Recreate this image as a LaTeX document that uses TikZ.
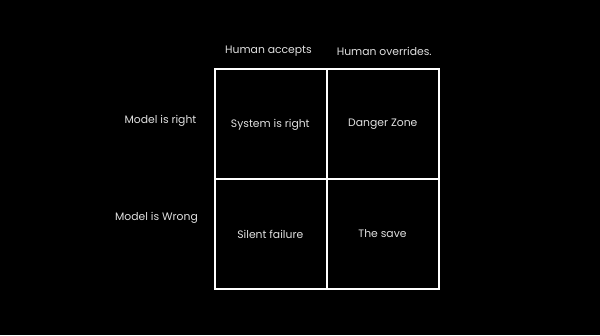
\documentclass[tikz,border=0pt]{standalone}
\usepackage{fontspec}
\setmainfont{Poppins}
\begin{document}
\begin{tikzpicture}[x=1pt,y=-1pt,
  lbl/.style={text=white!88!black,font=\fontsize{10.8}{13}\selectfont,inner sep=0pt,anchor=center},
  gridline/.style={draw=white,line width=2pt}]
\fill[black] (0,0) rectangle (600,335);
\useasboundingbox (0,0) rectangle (600,335);
\coordinate (tl) at (215,68.5);
\coordinate (br) at (438.5,288.5);
\coordinate (tm) at (326.8,68.5);
\coordinate (bm) at (326.8,288.5);
\coordinate (ml) at (215,178.5);
\coordinate (mr) at (438.5,178.5);
\draw[gridline] (tl) rectangle (br);
\draw[gridline] (tm) -- (bm);
\draw[gridline] (ml) -- (mr);
\node[lbl] (ha) at (268.5,51.5) {Human accepts};
\node[lbl] (ho) at (384.3,51.5) {Human overrides.};
\node[lbl] (mr1) at (160.5,121) {Model is right};
\node[lbl] (mw) at (156.5,218) {Model is Wrong};
\node[lbl] (sr) at (270.3,124.5) {System is right};
\node[lbl] (dz) at (382.8,124.5) {Danger Zone};
\node[lbl] (sf) at (270.3,234) {Silent failure};
\node[lbl] (ts) at (382.5,234) {The save};
\end{tikzpicture}
\end{document}
